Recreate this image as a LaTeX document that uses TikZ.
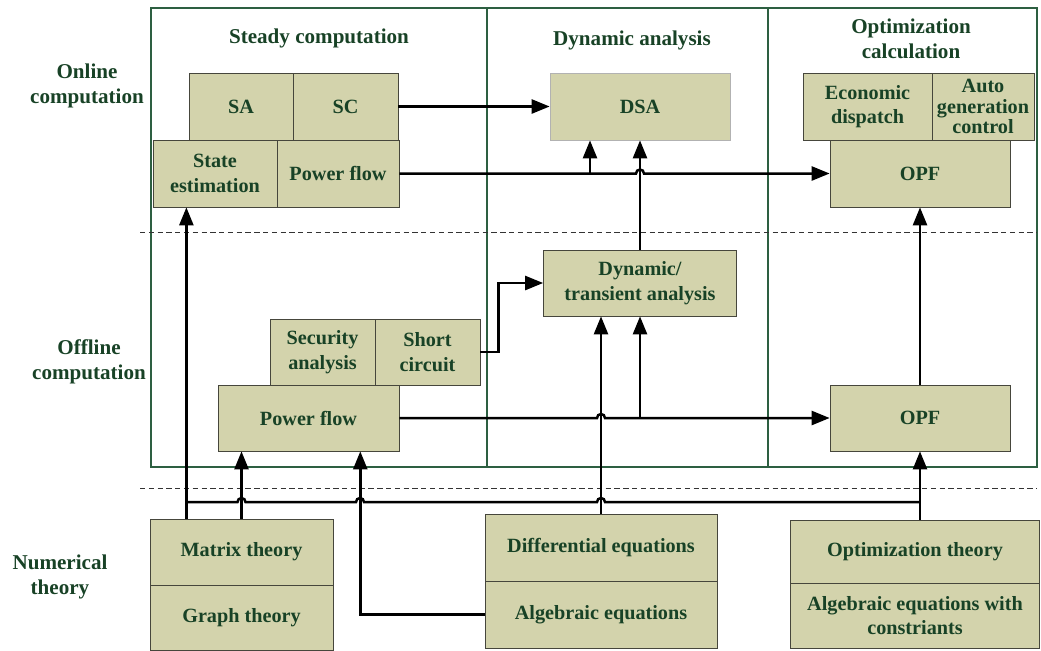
\documentclass[tikz,border=0pt]{standalone}
\usepackage{fontspec}
\setmainfont{Liberation Serif}
\usetikzlibrary{arrows.meta,calc}
\definecolor{boxfill}{RGB}{211,211,172}
\definecolor{txtgreen}{RGB}{24,66,38}
\definecolor{framegreen}{RGB}{45,95,65}
\definecolor{boxline}{RGB}{70,70,60}

\begin{document}
\begin{tikzpicture}[x=0.2mm, y=-0.2mm,
    cell/.style={draw=boxline, fill=boxfill, text=txtgreen, align=center, inner sep=1pt,
      font=\fontsize{11.5}{14}\selectfont\bfseries, minimum height=13.2mm},
    head/.style={text=txtgreen, align=center, font=\fontsize{12}{14}\selectfont\bfseries},
    flow/.style={line width=0.5mm, -{Triangle[length=3.6mm,width=2.8mm]}},
    wire/.style={line width=0.5mm},
    panel/.style={draw=framegreen, line width=0.3mm},
    rowsep/.style={densely dashed, thin, black!80}]

     \useasboundingbox (0,0) rectangle (1041,650);

     % frame
     \draw[panel] (151,8) rectangle (1037,467);
     \draw[panel] (487,8) -- (487,467);
     \draw[panel] (768,8) -- (768,467);
     \draw[rowsep] (140,232) -- (1037,232);
     \draw[rowsep] (140,488) -- (1037,488);

     % titles
     \node[head] (tsteady) at (319,38) {Steady computation};
     \node[head] (tdyn) at (632,40) {Dynamic analysis};
     \node[head] (topt) at (911,39) {Optimization\\calculation};
     \node[head] (ronline) at (87,86) {Online\\computation};
     \node[head] (roffline) at (89,362) {Offline\\computation};
     \node[head] (rnum) at (60,577) {Numerical\\theory};

     % online
     \node[cell, minimum width=20.8mm, minimum height=13.4mm] (sa) at (241,106.5) {SA};
     \node[cell, minimum width=21mm, minimum height=13.4mm] (sc) at (345.5,106.5) {SC};
     \node[cell, minimum width=24.8mm, minimum height=13.4mm] (sest) at (215,173.5) {State\\estimation};
     \node[cell, minimum width=24.4mm, minimum height=13.4mm] (pfon) at (338,173.5) {Power flow};
     \node[cell, draw=gray!60, minimum width=36mm, minimum height=13.4mm] (dsa) at (640,106.5) {DSA};
     \node[cell, minimum width=25.8mm, minimum height=13.4mm] (ed) at (867.5,106.5) {Economic\\dispatch};
     \node[cell, minimum width=20.4mm, minimum height=13.4mm,
       font=\fontsize{11.5}{11.5}\selectfont\bfseries] (agc) at (983,106.5) {Auto\\generation\\control};
     \node[cell, minimum width=36mm, minimum height=13.4mm] (opfon) at (920,173.5) {OPF};

     % offline
     \node[cell, minimum width=38.6mm] (dyn) at (640,283) {Dynamic/\\transient analysis};
     \node[cell, minimum width=21mm] (secan) at (322.5,352) {Security\\analysis};
     \node[cell, minimum width=21mm] (shc) at (427.5,352) {Short\\circuit};
     \node[cell, minimum width=36.2mm] (pfoff) at (308.5,418) {Power flow};
     \node[cell, minimum width=36mm] (opfoff) at (920,418) {OPF};

     % theory
     \node[cell, minimum width=36.6mm] (mat) at (241.5,552) {Matrix theory};
     \node[cell, minimum width=36.6mm, minimum height=13mm] (gra) at (241.5,617.5) {Graph theory};
     \node[cell, minimum width=46.4mm, minimum height=13.4mm] (dif) at (601,547.5) {Differential equations};
     \node[cell, minimum width=46.4mm, minimum height=13.4mm] (alg) at (601,614.5) {Algebraic equations};
     \node[cell, minimum width=49.8mm, minimum height=12.6mm] (opt) at (915,551.5) {Optimization theory};
     \node[cell, minimum width=49.8mm, minimum height=13mm] (algc) at (915,615.5) {Algebraic equations with\\constriants};

     % online arrows
     \draw[flow] (sc.east) -- (dsa.west);
     \draw[flow] (pfon.east) -- (636,173.5) arc[start angle=180, end angle=0, radius=0.8mm] -- (opfon.west);
     \coordinate (b1) at (590,173.5);
     \draw[flow] (b1) -- (b1 |- dsa.south);
     \draw[flow] (dyn.north) -- (dyn.north |- dsa.south);

     % offline arrows
     \draw[flow] (shc.east) -- ++(18,0) |- (dyn.west);
     \draw[flow] (pfoff.east) -- (597,418) arc[start angle=180, end angle=0, radius=0.8mm] -- (opfoff.west);
     \draw[flow] (dyn.south |- pfoff.east) -- (dyn.south);
     \draw[flow] (opfoff.north) -- (opfon.south);

     % theory arrows
     \coordinate (m1) at ($(mat.north west)!0.2!(mat.north east)$);
     \coordinate (p2) at ($(pfoff.south west)!0.785!(pfoff.south east)$);
     \coordinate (o1) at (opfoff.south |- opt.north);
     \draw[flow] (m1) -- (m1 |- sest.south);
     \draw[flow] (mat.north) -- (mat.north |- pfoff.south);
     \draw[flow] (alg.west) -| (p2);
     \draw[flow] (dif.north) -- (dif.north |- dyn.south);
     \draw[flow] (o1) -- (opfoff.south);
     \draw[wire] (m1 |- 0,502) -- (237.5,502) arc[start angle=180, end angle=0, radius=0.8mm]
       -- (356,502) arc[start angle=180, end angle=0, radius=0.8mm]
       -- (597,502) arc[start angle=180, end angle=0, radius=0.8mm]
       -- (o1 |- 0,502);

\end{tikzpicture}
\end{document}
